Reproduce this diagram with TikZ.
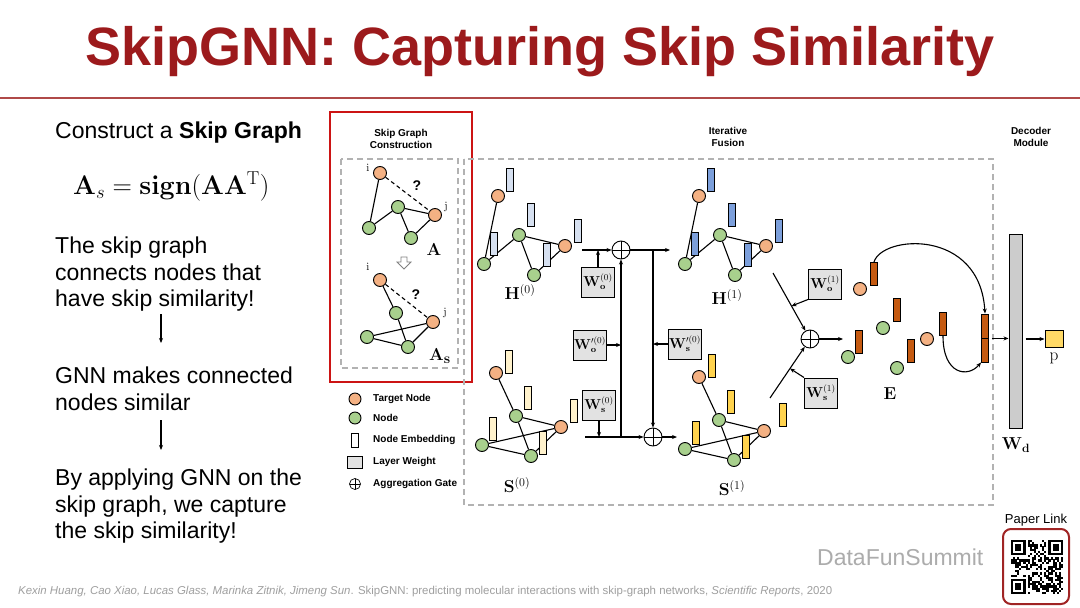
\documentclass[tikz,border=0pt]{standalone}
\usepackage[no-math]{fontspec}
\setmainfont{Liberation Sans}
\usepackage{amsmath}
\usetikzlibrary{arrows.meta, positioning, calc}

\definecolor{titlered}{HTML}{9C1A1C}
\definecolor{rulered}{HTML}{B04A48}
\definecolor{boxred}{HTML}{CC1414}
\definecolor{qrred}{HTML}{A02424}
\definecolor{nodeorange}{HTML}{F4B183}
\definecolor{nodegreen}{HTML}{A8D08D}
\definecolor{embpaleblue}{HTML}{D6E0F0}
\definecolor{embblue}{HTML}{7C9FDB}
\definecolor{embpaleyellow}{HTML}{FFF2CC}
\definecolor{embyellow}{HTML}{FFD34E}
\definecolor{embrust}{HTML}{C55A11}
\definecolor{wgray}{HTML}{E2E2E2}
\definecolor{bargray}{HTML}{CCCCCC}
\definecolor{pyellow}{HTML}{FFD966}

% one layer of the original graph
\newcommand{\hgraph}[2]{%
  \node[tnode] (#1t) at (498,196) {};
  \node[gnode] (#1a) at (519,235) {};
  \node[tnode] (#1j) at (565,246) {};
  \node[gnode] (#1b) at (484,264) {};
  \node[gnode] (#1c) at (534,275) {};
  \draw[link] (#1t) -- (#1b) (#1b) -- (#1a) (#1a) -- (#1j) (#1a) -- (#1c) (#1c) -- (#1j);
  \node[emb, fill=#2] (#1et) at (510,180) {};
  \node[emb, fill=#2] (#1ea) at (531,215) {};
  \node[emb, fill=#2] (#1ej) at (578,231) {};
  \node[emb, fill=#2] (#1eb) at (494,244) {};
  \node[emb, fill=#2] (#1ec) at (547,255) {};
}
% one layer of the skip graph
\newcommand{\sgraph}[3]{%
  \node[tnode] (#1t) at (496,373) {};
  \node[gnode] (#1a) at (516,416) {};
  \node[tnode] (#1j) at (561,427) {};
  \node[gnode] (#1b) at (482,445) {};
  \node[gnode] (#1c) at (531,456) {};
  \draw[link] (#1t) -- (#1a) (#1a) -- (#1j) (#1a) -- (#1c) (#1b) -- (#1j) (#1b) -- (#1c) (#1c) -- (#1j);
  \node[emb, fill=#2] (#1et) at (509,362) {};
  \node[emb, fill=#2] (#1ea) at (528,398) {};
  \node[emb, fill=#2] (#1ej) at (#3,411) {};
  \node[emb, fill=#2] (#1eb) at (493,429) {};
  \node[emb, fill=#2] (#1ec) at (543,443) {};
}

\begin{document}
\begin{tikzpicture}[x=1pt, y=-1pt,
    tnode/.style={circle, draw, line width=0.9pt, fill=nodeorange, minimum size=13pt, inner sep=0pt},
    gnode/.style={tnode, fill=nodegreen},
    link/.style={line width=1.1pt},
    emb/.style={rectangle, draw, line width=0.9pt, minimum width=7pt, minimum height=23pt, inner sep=0pt},
    wbox/.style={rectangle, draw, line width=1pt, fill=wgray, minimum width=33pt, minimum height=30pt, inner sep=1pt, font=\fontsize{13.5}{13.5}\selectfont},
    gate/.style={circle, draw, line width=0.9pt, minimum size=18pt, inner sep=0pt,
      path picture={\draw[line width=0.9pt] (path picture bounding box.north) -- (path picture bounding box.south)
        (path picture bounding box.west) -- (path picture bounding box.east);}},
    arrow/.style={-{Stealth[length=5pt,width=4pt]}, line width=1.1pt},
    dashbox/.style={dash pattern=on 6pt off 4pt, line width=1.3pt, draw=gray!60},
    heading/.style={font=\bfseries\fontsize{10}{12}\selectfont, align=center},
    mlabel/.style={font=\fontsize{17}{17}\selectfont},
    idx/.style={font=\fontsize{11}{11}\selectfont, inner sep=0pt},
    slidetext/.style={anchor=base west, font=\fontsize{23}{27}\selectfont, inner sep=0pt},
    legend/.style={anchor=west, font=\bfseries\fontsize{10}{12}\selectfont, inner sep=0pt},
]
\fill[white] (0,0) rectangle (1080,608);
\useasboundingbox (0,0) rectangle (1080,608);

% Title
\node[anchor=base, inner sep=0pt, text=titlered, font=\bfseries\fontsize{54}{54}\selectfont] (title) at (540,65) {SkipGNN: Capturing Skip Similarity};
\draw[rulered, line width=2pt] (0,98) -- (1080,98);

% Left column
\node[slidetext] (t0) at (55,138) {Construct a \textbf{Skip Graph}};
\node[anchor=base west, inner sep=0pt, font=\fontsize{24}{24}\selectfont] (eq) at (73,194) {\scalebox{1.08}{$\mathbf{A}_s=\mathbf{sign}(\mathbf{A}\mathbf{A}^{\mathrm{T}})$}};
\node[slidetext] (t1) at (55,253) {The skip graph};
\node[slidetext] (t2) at (55,280) {connects nodes that};
\node[slidetext] (t3) at (55,306) {have skip similarity!};
\node[slidetext] (t4) at (55,383) {GNN makes connected};
\node[slidetext] (t5) at (55,410) {nodes similar};
\node[slidetext] (t6) at (55,485) {By applying GNN on the};
\node[slidetext] (t7) at (55,512) {skip graph, we capture};
\node[slidetext] (t8) at (55,538) {the skip similarity!};
\coordinate (s1a) at (161,314);
\coordinate (s1b) at (161,343);
\coordinate (s2a) at (161,420);
\coordinate (s2b) at (161,450);
\draw[arrow, line width=1.3pt] (s1a) -- (s1b);
\draw[arrow, line width=1.3pt] (s2a) -- (s2b);

% Frames
\draw[boxred, line width=2.2pt] (330,112) rectangle (472,382);
\draw[dashbox] (341,159) rectangle (458,368);
\draw[dashbox] (464,159) rectangle (993,505);
\node[heading] (hskip) at (401,139) {Skip Graph\\Construction};
\node[heading] (hfusion) at (728,137) {Iterative\\Fusion};
\node[heading] (hdecoder) at (1031,137) {Decoder\\Module};

% Skip graph construction: A
\node[tnode] (ai) at (380,173) {};
\node[gnode] (a1) at (398,207) {};
\node[tnode] (aj) at (435,215) {};
\node[gnode] (a2) at (369,228) {};
\node[gnode] (a3) at (411,238) {};
\draw[link] (ai) -- (a2) (a2) -- (a1) (a1) -- (aj) (a1) -- (a3) (a3) -- (aj);
\draw[link, dash pattern=on 4pt off 3pt] (ai) -- (aj);
\node[idx] (ail) at (368,168) {$\mathrm{i}$};
\node[idx] (ajl) at (446,207) {$\mathrm{j}$};
\node[font=\bfseries\fontsize{14}{14}\selectfont] (aq) at (417,186) {?};
\node[font=\fontsize{19}{19}\selectfont] (alab) at (434,250) {$\mathbf{A}$};
\draw[gray, line width=0.8pt, fill=white] (401,257) -- (407,257) -- (407,262) -- (411,262) -- (404,269) -- (397,262) -- (401,262) -- cycle;

% Skip graph construction: A_s
\node[tnode] (si) at (380,280) {};
\node[gnode] (s1) at (396,313) {};
\node[tnode] (sj) at (433,322) {};
\node[gnode] (s2) at (367,337) {};
\node[gnode] (s3) at (408,347) {};
\draw[link] (si) -- (s1) (s1) -- (s3) (s2) -- (sj) (s2) -- (s3) (s3) -- (sj);
\draw[link, dash pattern=on 4pt off 3pt] (si) -- (sj);
\node[idx] (sil) at (368,267) {$\mathrm{i}$};
\node[idx] (sjl) at (445,313) {$\mathrm{j}$};
\node[font=\bfseries\fontsize{14}{14}\selectfont] (sq) at (416,295) {?};
\node[font=\fontsize{19}{19}\selectfont] (slab) at (440,356) {$\mathbf{A}_{\mathbf{s}}$};

% Legend
\node[tnode, minimum size=12pt] (lg1) at (355,399) {};
\node[gnode, minimum size=12pt] (lg2) at (355,418) {};
\node[emb, fill=white, minimum height=14pt] (lg3) at (355,440) {};
\node[rectangle, draw, line width=1pt, fill=wgray, minimum width=15pt, minimum height=12pt, inner sep=0pt] (lg4) at (355,462) {};
\node[gate, minimum size=11pt, line width=0.7pt] (lg5) at (355,484) {};
\node[legend] (lt1) at (373,399) {Target Node};
\node[legend] (lt2) at (373,418) {Node};
\node[legend] (lt3) at (373,440) {Node Embedding};
\node[legend] (lt4) at (373,462) {Layer Weight};
\node[legend] (lt5) at (373,484) {Aggregation Gate};

% Iterative fusion: graphs
\hgraph{h0}{embpaleblue}
\begin{scope}[shift={(201,0)}]
  \hgraph{h1}{embblue}
\end{scope}
\sgraph{s0}{embpaleyellow}{574}
\begin{scope}[shift={(203,4)}]
  \sgraph{ss1}{embyellow}{580}
\end{scope}
\node[mlabel] (h0l) at (520,292) {$\mathbf{H}^{(0)}$};
\node[mlabel] (h1l) at (727,297) {$\mathbf{H}^{(1)}$};
\node[mlabel] (s0l) at (517,485) {$\mathbf{S}^{(0)}$};
\node[mlabel] (s1l) at (732,488) {$\mathbf{S}^{(1)}$};

% Iterative fusion: gates and weights
\coordinate (h0out) at (582,250);
\coordinate (hsplit) at (653,250);
\coordinate (h1in) at (670,250);
\coordinate (s0out) at (585,437);
\coordinate (ssplit) at (621,437);
\coordinate (s1in) at (677,437);
\node[gate] (go0) at (621,250) {};
\node[gate] (gs0) at (653,437) {};
\draw[arrow] (h0out) -- (go0);
\draw[arrow] (go0) -- (h1in);
\draw[arrow] (hsplit) -- (gs0);
\draw[arrow] (s0out) -- (gs0);
\draw[arrow] (ssplit) -- (go0);
\draw[arrow] (gs0) -- (s1in);
\node[wbox] (wo0) at (598,282) {$\mathbf{W}_{\mathbf{o}}^{(0)}$};
\node[wbox] (wpo0) at (590,345) {$\mathbf{W}_{\mathbf{o}}^{\prime(0)}$};
\node[wbox] (wps0) at (685,344) {$\mathbf{W}_{\mathbf{s}}^{\prime(0)}$};
\node[wbox] (ws0) at (599,405) {$\mathbf{W}_{\mathbf{s}}^{(0)}$};
\draw[arrow] (wo0.north) -- (wo0.north |- go0);
\draw[arrow] (wpo0.east) -- (wpo0.east -| go0);
\draw[arrow] (wps0.west) -- (wps0.west -| gs0);
\draw[arrow] (ws0.south) -- (ws0.south |- gs0);

% Readout into E
\coordinate (h1out) at (773,273);
\coordinate (s1out) at (770,398);
\coordinate (ein) at (843,339);
\node[gate] (gd) at (810,339) {};
\draw[arrow] (h1out) -- (gd);
\draw[arrow] (s1out) -- (gd);
\draw[arrow] (gd) -- (ein);
\node[wbox] (wo1) at (825,284) {$\mathbf{W}_{\mathbf{o}}^{(1)}$};
\node[wbox] (ws1) at (821,393) {$\mathbf{W}_{\mathbf{s}}^{(1)}$};
\draw[arrow] (wo1.south west) -- ($(h1out)!0.5!(gd)$);
\draw[arrow] (ws1.north west) -- ($(s1out)!0.5!(gd)$);

% E
\node[gnode] (e1) at (848,357) {};
\node[gnode] (e2) at (883,328) {};
\node[tnode] (e3) at (860,289) {};
\node[gnode] (e4) at (897,368) {};
\node[tnode] (e5) at (927,339) {};
\node[emb, fill=embrust] (e1e) at (859,342) {};
\node[emb, fill=embrust] (e2e) at (897,310) {};
\node[emb, fill=embrust] (e3e) at (874,274) {};
\node[emb, fill=embrust] (e4e) at (911,351) {};
\node[emb, fill=embrust] (e5e) at (943,324) {};
\node[mlabel] (el) at (890,394) {$\mathbf{E}$};
\node[emb, fill=embrust, minimum height=24pt] (cat1) at (985,326) {};
\node[emb, fill=embrust, minimum height=24pt] (cat2) at (985,350) {};
\draw[arrow] (e3e.north) .. controls (882,235) and (980,228) .. (cat1.north);
\draw[arrow] (e5e.south) .. controls (943,375) and (968,378) .. (cat2.south west);

% Decoder
\node[rectangle, draw, line width=1pt, fill=bargray, minimum width=13pt, minimum height=194pt, inner sep=0pt] (wd) at (1015.5,331) {};
\node[rectangle, draw, line width=1pt, fill=pyellow, minimum width=18pt, minimum height=17pt, inner sep=0pt] (p) at (1054,339) {};
\draw[arrow, shorten <=3pt] (cat1.south east) -- (cat1.south east -| wd.west);
\draw[arrow, shorten <=3pt] (wd.east |- p) -- (p.west);
\node[mlabel] (wdl) at (1016,445) {$\mathbf{W}_{\mathbf{d}}$};
\node[font=\fontsize{19}{19}\selectfont] (pl) at (1054,358) {$\mathrm{p}$};

% Footer
\node[anchor=base west, inner sep=0pt, text=gray!75, font=\fontsize{10.5}{12}\selectfont] (cite) at (18,594)
  {\resizebox{814pt}{!}{\textit{Kexin Huang, Cao Xiao, Lucas Glass, Marinka Zitnik, Jimeng Sun}. SkipGNN: predicting molecular interactions with skip-graph networks, \textit{Scientific Reports}, 2020}};
\node[anchor=base west, inner sep=0pt, text=gray!65, font=\fontsize{23}{23}\selectfont] (brand) at (817,565) {DataFunSummit};
\node[anchor=base, inner sep=0pt, font=\fontsize{13}{13}\selectfont] (plink) at (1036,523) {Paper Link};
\draw[qrred, line width=2pt, rounded corners=8pt] (1003,529) rectangle (1069,604);
\begin{scope}[shift={(1011,540)}, x=2.08pt, y=-2.16pt]
  \pgfmathsetseed{42}
  \foreach \r in {0,...,24}{
    \foreach \c in {0,...,24}{
      \pgfmathtruncatemacro\infinder{(\r<8 && \c<8) || (\r<8 && \c>16) || (\r>16 && \c<8)}
      \pgfmathrandominteger{\q}{0}{1}
      \ifnum\infinder=0 \ifnum\q=1 \fill (\c,\r) rectangle ++(1.03,1.03); \fi\fi
    }
  }
  \foreach \fx/\fy in {0/0, 18/0, 0/18}{
    \fill (\fx,\fy) rectangle ++(7,7);
    \fill[white] (\fx+1,\fy+1) rectangle ++(5,5);
    \fill (\fx+2,\fy+2) rectangle ++(3,3);
  }
\end{scope}
\end{tikzpicture}
\end{document}
